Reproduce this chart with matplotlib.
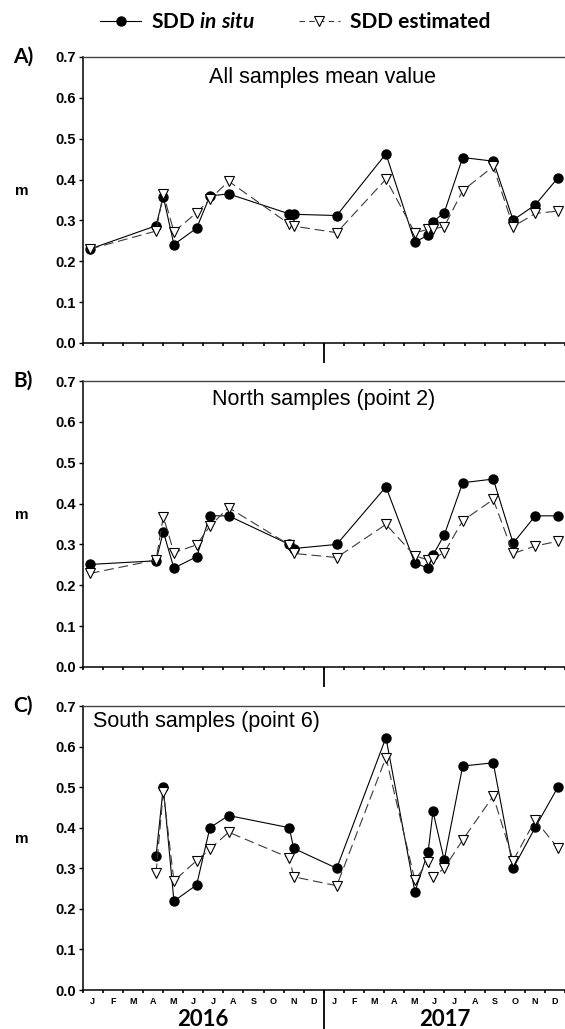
import matplotlib
matplotlib.use('Agg')
import matplotlib.pyplot as plt
from matplotlib.lines import Line2D
import matplotlib.transforms as mtransforms

plt.rcParams['lines.scale_dashes'] = False
plt.rcParams['mathtext.fontset'] = 'custom'
plt.rcParams['mathtext.it'] = 'Lato:italic:bold'
plt.rcParams['mathtext.rm'] = 'Lato:bold'

# ---------------- data ----------------
months = ['J', 'F', 'M', 'A', 'M', 'J', 'J', 'A', 'S', 'O', 'N', 'D']
years = ['2016', '2017']

# sampling dates, in months since 1 Jan 2016
t_dates = [0.36, 3.65, 4.01, 4.54, 5.67, 6.33, 7.26, 10.28, 10.50, 12.64,
           15.09, 16.53, 17.19, 17.43, 17.99, 18.91, 20.43, 21.42, 22.52, 23.66]

all_insitu = [0.230, 0.287, 0.358, 0.241, 0.281, 0.360, 0.365, 0.316, 0.315, 0.312,
              0.463, 0.247, 0.264, 0.297, 0.319, 0.454, 0.445, 0.301, 0.338, 0.405]
all_est = [0.230, 0.274, 0.365, 0.272, 0.319, 0.352, 0.396, 0.291, 0.286, 0.270,
           0.401, 0.270, 0.278, 0.279, 0.285, 0.373, 0.432, 0.285, 0.317, 0.323]

north_insitu = [0.251, 0.260, 0.331, 0.242, 0.270, 0.370, 0.370, 0.300, 0.290, 0.300,
                0.441, 0.254, 0.242, 0.274, 0.323, 0.451, 0.460, 0.303, 0.370, 0.370]
north_est = [0.229, 0.262, 0.368, 0.280, 0.299, 0.345, 0.390, 0.299, 0.278, 0.268,
             0.349, 0.272, 0.262, 0.265, 0.280, 0.358, 0.410, 0.278, 0.296, 0.308]

# south samples: no January 2016 sample
t_south = t_dates[1:]
south_insitu = [0.330, 0.500, 0.219, 0.259, 0.400, 0.430, 0.400, 0.349, 0.300,
                0.622, 0.242, 0.341, 0.440, 0.320, 0.552, 0.560, 0.300, 0.401, 0.501]
south_est = [0.288, 0.489, 0.269, 0.319, 0.347, 0.389, 0.326, 0.279, 0.257,
             0.573, 0.271, 0.316, 0.278, 0.300, 0.370, 0.478, 0.319, 0.419, 0.349]

panels = [
    ('A)', 'All samples mean value', t_dates, all_insitu, all_est),
    ('B)', 'North samples (point 2)', t_dates, north_insitu, north_est),
    ('C)', 'South samples (point 6)', t_south, south_insitu, south_est),
]

# ---------------- figure ----------------
W, H = 565, 1029
fig = plt.figure(figsize=(W / 100, H / 100), dpi=100)

left = 82.7 / W
width = 1.0 - left
boxes = [(57, 343), (381, 667), (706, 990)]  # top, bottom in pixels

title_pos = [(0.498, 0.930, 'center'), (0.500, 0.934, 'center'), (0.021, 0.944, 'left')]

for i, ((lab, title, t, ins, est), (top, bot)) in enumerate(zip(panels, boxes)):
    ax = fig.add_axes([left, 1 - bot / H, width, (bot - top) / H])
    ax.plot(t, ins, color='black', lw=0.8, marker='o', markersize=6.5,
            markerfacecolor='black', markeredgecolor='black', zorder=3)
    ax.plot(t, est, color='#3a3a3a', lw=0.8, linestyle=(0, (7, 3.5)), marker='v',
            markersize=7.5, markerfacecolor='white', markeredgecolor='black',
            markeredgewidth=0.8, zorder=4)

    ax.set_xlim(0, 24)
    ax.set_ylim(0, 0.7)
    ax.spines['right'].set_visible(False)
    ax.spines['top'].set_color('#444444')
    ax.spines['top'].set_linewidth(1.0)
    ax.spines['left'].set_linewidth(1.1)
    ax.spines['bottom'].set_linewidth(1.1)

    ax.set_yticks([k / 10 for k in range(8)])
    ax.set_yticklabels(['%.1f' % (k / 10) for k in range(8)],
                       fontfamily='Liberation Sans', fontweight='bold', fontsize=10.5)
    ax.tick_params(axis='y', direction='out', length=3, width=1, pad=2)

    # month boundaries as minor ticks, month names at centers
    ax.set_xticks(list(range(25)), minor=True)
    ax.set_xticks([m + 0.5 for m in range(24)])
    if i == 2:
        ax.set_xticklabels(months * 2, fontfamily='Liberation Sans',
                           fontweight='bold', fontsize=6.5)
    else:
        ax.set_xticklabels([])
    ax.tick_params(axis='x', which='major', length=0, pad=5)
    ax.tick_params(axis='x', which='minor', direction='out', length=2.5, width=1.2)

    # year separator
    sec = ax.secondary_xaxis('bottom')
    sec.set_xticks([12])
    sec.set_xticklabels([])
    sec.spines['bottom'].set_visible(False)
    sec.tick_params(axis='x', direction='out', length=28 if i == 2 else 14.5, width=1.3)

    tx, ty, tha = title_pos[i]
    ax.text(tx, ty, title, transform=ax.transAxes, ha=tha, va='center',
            fontfamily='Liberation Sans', fontsize=15.5)

    ax.text(-0.124, 1.0, lab, transform=ax.transAxes, ha='center', va='center',
            fontfamily='Lato', fontweight='bold', fontsize=15)
    ax.text(-0.126, 0.53, 'm', transform=ax.transAxes, ha='center', va='center',
            fontfamily='Liberation Sans', fontweight='bold', fontsize=11)

    if i == 2:
        trans = mtransforms.blended_transform_factory(ax.transData, fig.transFigure)
        for k, yr in enumerate(years):
            ax.text(6 + 12 * k, 1 - 1019 / H, yr, transform=trans, ha='center',
                    va='center', fontfamily='Lato', fontweight='bold', fontsize=16)

# legend
h1 = Line2D([], [], color='black', lw=0.8, marker='o', markersize=6.5,
            markerfacecolor='black')
h2 = Line2D([], [], color='#3a3a3a', lw=0.8, linestyle=(0, (4, 3)), marker='v',
            markersize=7.5, markerfacecolor='white', markeredgecolor='black',
            markeredgewidth=0.8)
leg = fig.legend([h1, h2], [r'SDD $\mathit{in\ situ}$', 'SDD estimated'],
                 loc='center', bbox_to_anchor=(0.522, 1 - 22.5 / H), ncol=2,
                 frameon=False, handlelength=2.0, handletextpad=0.45,
                 columnspacing=2.1, borderpad=0,
                 prop={'family': 'Lato', 'weight': 'bold', 'size': 15})

fig.savefig('out.png', dpi=100)
